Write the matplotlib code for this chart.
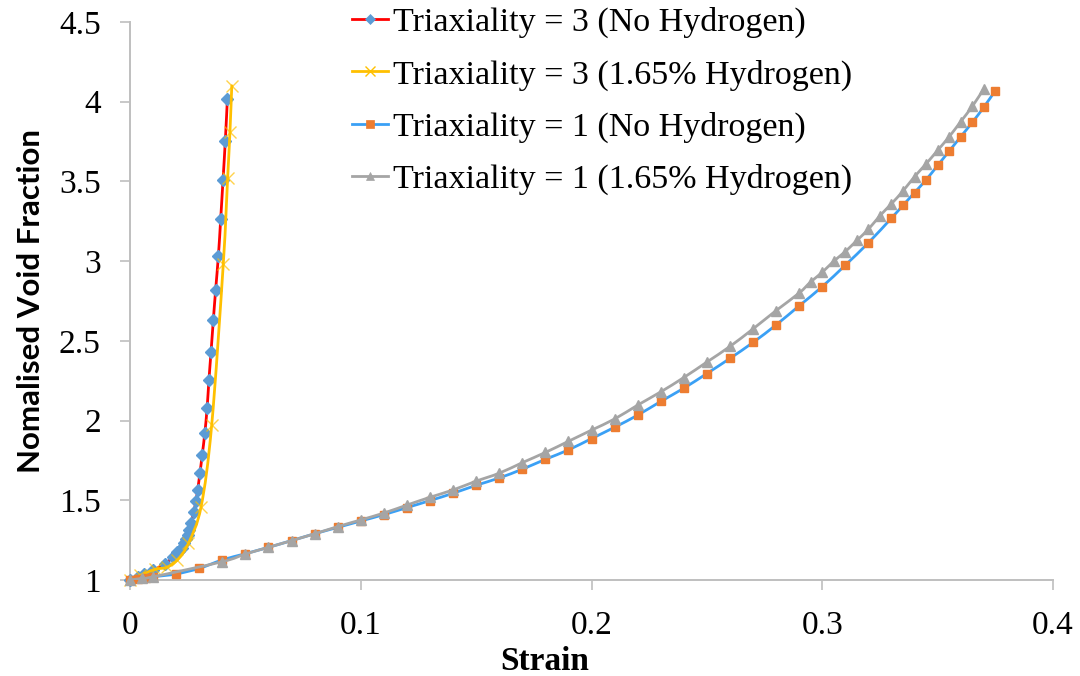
import matplotlib
matplotlib.use("Agg")
import matplotlib.pyplot as plt
from matplotlib.path import Path
from matplotlib.patches import PathPatch
from matplotlib.lines import Line2D

# Triaxiality = 3 (No Hydrogen)
t3_nh_strain = [0, 0.0035, 0.006, 0.0101, 0.015, 0.0188, 0.0205, 0.0214, 0.0224, 0.0235,
                0.0243, 0.025, 0.0257, 0.0264, 0.0276, 0.0286, 0.0293, 0.0303, 0.0313,
                0.0324, 0.0334, 0.0342, 0.0351, 0.0361, 0.0371, 0.0383, 0.0393, 0.0403,
                0.0413, 0.0422]
t3_nh_void = [1.0, 1.02, 1.035, 1.063, 1.1, 1.146, 1.175, 1.184, 1.2, 1.23,
              1.255, 1.28, 1.314, 1.356, 1.425, 1.498, 1.565, 1.67, 1.787,
              1.92, 2.078, 2.256, 2.43, 2.63, 2.82, 3.034, 3.266, 3.509,
              3.756, 4.02]

# Triaxiality = 3 (1.65% Hydrogen)
t3_h_strain = [0, 0.0045, 0.0108, 0.0159, 0.0205, 0.0253, 0.0308, 0.0354, 0.0404,
               0.0423, 0.0433, 0.0441]
t3_h_void = [1.0, 1.03, 1.067, 1.08, 1.126, 1.23, 1.46, 1.973, 2.98,
             3.52, 3.81, 4.10]

# Triaxiality = 1 (No Hydrogen)
t1_nh_strain = [0, 0.0035, 0.007, 0.01, 0.02, 0.03, 0.04, 0.05, 0.06, 0.07, 0.08, 0.09,
                0.10, 0.11, 0.12, 0.13, 0.14, 0.15, 0.16, 0.17, 0.18, 0.19, 0.20, 0.21,
                0.22, 0.23, 0.24, 0.25, 0.26, 0.27, 0.28, 0.29, 0.30, 0.31, 0.32, 0.33,
                0.335, 0.34, 0.345, 0.35, 0.355, 0.36, 0.365, 0.37, 0.375]
t1_nh_void = [1.0, 1.005, 1.012, 1.02, 1.038, 1.073, 1.126, 1.165, 1.205, 1.247, 1.29, 1.33,
              1.37, 1.41, 1.454, 1.498, 1.544, 1.594, 1.64, 1.695, 1.757, 1.816, 1.887, 1.958,
              2.034, 2.12, 2.203, 2.295, 2.39, 2.49, 2.60, 2.72, 2.84, 2.975, 3.115, 3.27,
              3.35, 3.43, 3.51, 3.60, 3.69, 3.78, 3.87, 3.965, 4.07]

# Triaxiality = 1 (1.65% Hydrogen)
t1_h_strain = [0, 0.005, 0.01, 0.04, 0.05, 0.06, 0.07, 0.08, 0.09, 0.10, 0.11, 0.12,
               0.13, 0.14, 0.15, 0.16, 0.17, 0.18, 0.19, 0.20, 0.21, 0.22, 0.23, 0.24,
               0.25, 0.26, 0.27, 0.28, 0.29, 0.295, 0.30, 0.305, 0.31, 0.315, 0.32,
               0.325, 0.33, 0.335, 0.34, 0.345, 0.35, 0.355, 0.36, 0.365, 0.37]
t1_h_void = [1.0, 1.01, 1.02, 1.115, 1.163, 1.205, 1.247, 1.29, 1.335, 1.377, 1.42, 1.47,
             1.519, 1.565, 1.62, 1.67, 1.736, 1.80, 1.87, 1.94, 2.01, 2.097, 2.18, 2.27,
             2.367, 2.465, 2.575, 2.69, 2.80, 2.87, 2.93, 3.0, 3.06, 3.13, 3.20,
             3.285, 3.36, 3.44, 3.53, 3.61, 3.695, 3.78, 3.875, 3.97, 4.08]

labels = ["Triaxiality = 3 (No Hydrogen)", "Triaxiality = 3 (1.65% Hydrogen)",
          "Triaxiality = 1 (No Hydrogen)", "Triaxiality = 1 (1.65% Hydrogen)"]
xticks = [0, 0.1, 0.2, 0.3, 0.4]
xticklabels = ["0", "0.1", "0.2", "0.3", "0.4"]
yticks = [1, 1.5, 2, 2.5, 3, 3.5, 4, 4.5]
yticklabels = ["1", "1.5", "2", "2.5", "3", "3.5", "4", "4.5"]


def smooth_path(xs, ys):
    # Excel-style smoothed line: cubic Bezier through the points
    verts = [(xs[0], ys[0])]
    codes = [Path.MOVETO]
    n = len(xs)
    for i in range(n - 1):
        x0, y0 = (xs[i - 1], ys[i - 1]) if i > 0 else (xs[i], ys[i])
        x1, y1 = xs[i], ys[i]
        x2, y2 = xs[i + 1], ys[i + 1]
        x3, y3 = (xs[i + 2], ys[i + 2]) if i + 2 < n else (x2, y2)
        c1 = (x1 + (x2 - x0) / 6, y1 + (y2 - y0) / 6)
        c2 = (x2 - (x3 - x1) / 6, y2 - (y3 - y1) / 6)
        verts += [c1, c2, (x2, y2)]
        codes += [Path.CURVE4] * 3
    return Path(verts, codes)


serif = "Liberation Serif"
fig = plt.figure(figsize=(10.8, 6.76), dpi=100)
ax = fig.add_axes([0.1204, 0.142, 0.8546, 0.8255])

series = [
    (t3_nh_strain, t3_nh_void, "#FF0000", "D", "#5B9BD5", 6.3, 0),
    (t3_h_strain, t3_h_void, "#FFC000", "x", "#FFC000", 8, 1.0),
    (t1_nh_strain, t1_nh_void, "#3AA0F5", "s", "#ED7D31", 6.3, 0),
    (t1_h_strain, t1_h_void, "#A5A5A5", "^", "#A5A5A5", 7, 0),
]

handles = []
for i, (xs, ys, lc, mk, mc, ms, mew) in enumerate(series):
    patch = PathPatch(smooth_path(xs, ys), fill=False, edgecolor=lc, lw=2.0,
                      zorder=2 + 2 * i, capstyle="round", joinstyle="round")
    ax.add_patch(patch)
    if mk == "x":
        ax.plot(xs, ys, linestyle="none", marker=mk, color=mc, markersize=ms,
                markeredgewidth=1.0, alpha=0.7, zorder=3 + 2 * i, clip_on=False)
    else:
        ax.plot(xs, ys, linestyle="none", marker=mk, markerfacecolor=mc,
                markeredgecolor=mc, markersize=ms, zorder=3 + 2 * i, clip_on=False)
    handles.append(Line2D([], [], color=lc, lw=2.0, marker=mk, markersize=ms - 1,
                          markerfacecolor=mc, markeredgecolor=mc,
                          markeredgewidth=1.0 if mk == "x" else 0.5))

ax.set_xlim(0, 0.4)
ax.set_ylim(1, 4.5)
ax.set_xticks(xticks)
ax.set_xticklabels(xticklabels, fontfamily=serif, fontsize=24)
ax.set_yticks(yticks)
ax.set_yticklabels(yticklabels, fontfamily=serif, fontsize=24)
ax.tick_params(axis="both", direction="out", length=7, width=1.2, color="#BFBFBF")
ax.tick_params(axis="y", pad=14)
ax.tick_params(axis="x", pad=15)
for side in ["top", "right"]:
    ax.spines[side].set_visible(False)
for side in ["left", "bottom"]:
    ax.spines[side].set_color("#BFBFBF")
    ax.spines[side].set_linewidth(1.4)

fig.text(0.5046, 0.022, "Strain", ha="center", va="center",
         fontfamily=serif, fontweight="bold", fontsize=24)
fig.text(0.029, 0.555, "Nomalised Void Fraction", rotation=90, ha="center", va="center",
         fontfamily="Lato", fontweight="bold", fontsize=22.5)

leg = fig.legend(handles, labels, loc="upper left", bbox_to_anchor=(0.298, 1.035),
                 frameon=False, prop={"family": serif, "size": 24.5},
                 handlelength=1.05, handletextpad=0.15, labelspacing=0.62)

plt.savefig("out.png", dpi=100)
